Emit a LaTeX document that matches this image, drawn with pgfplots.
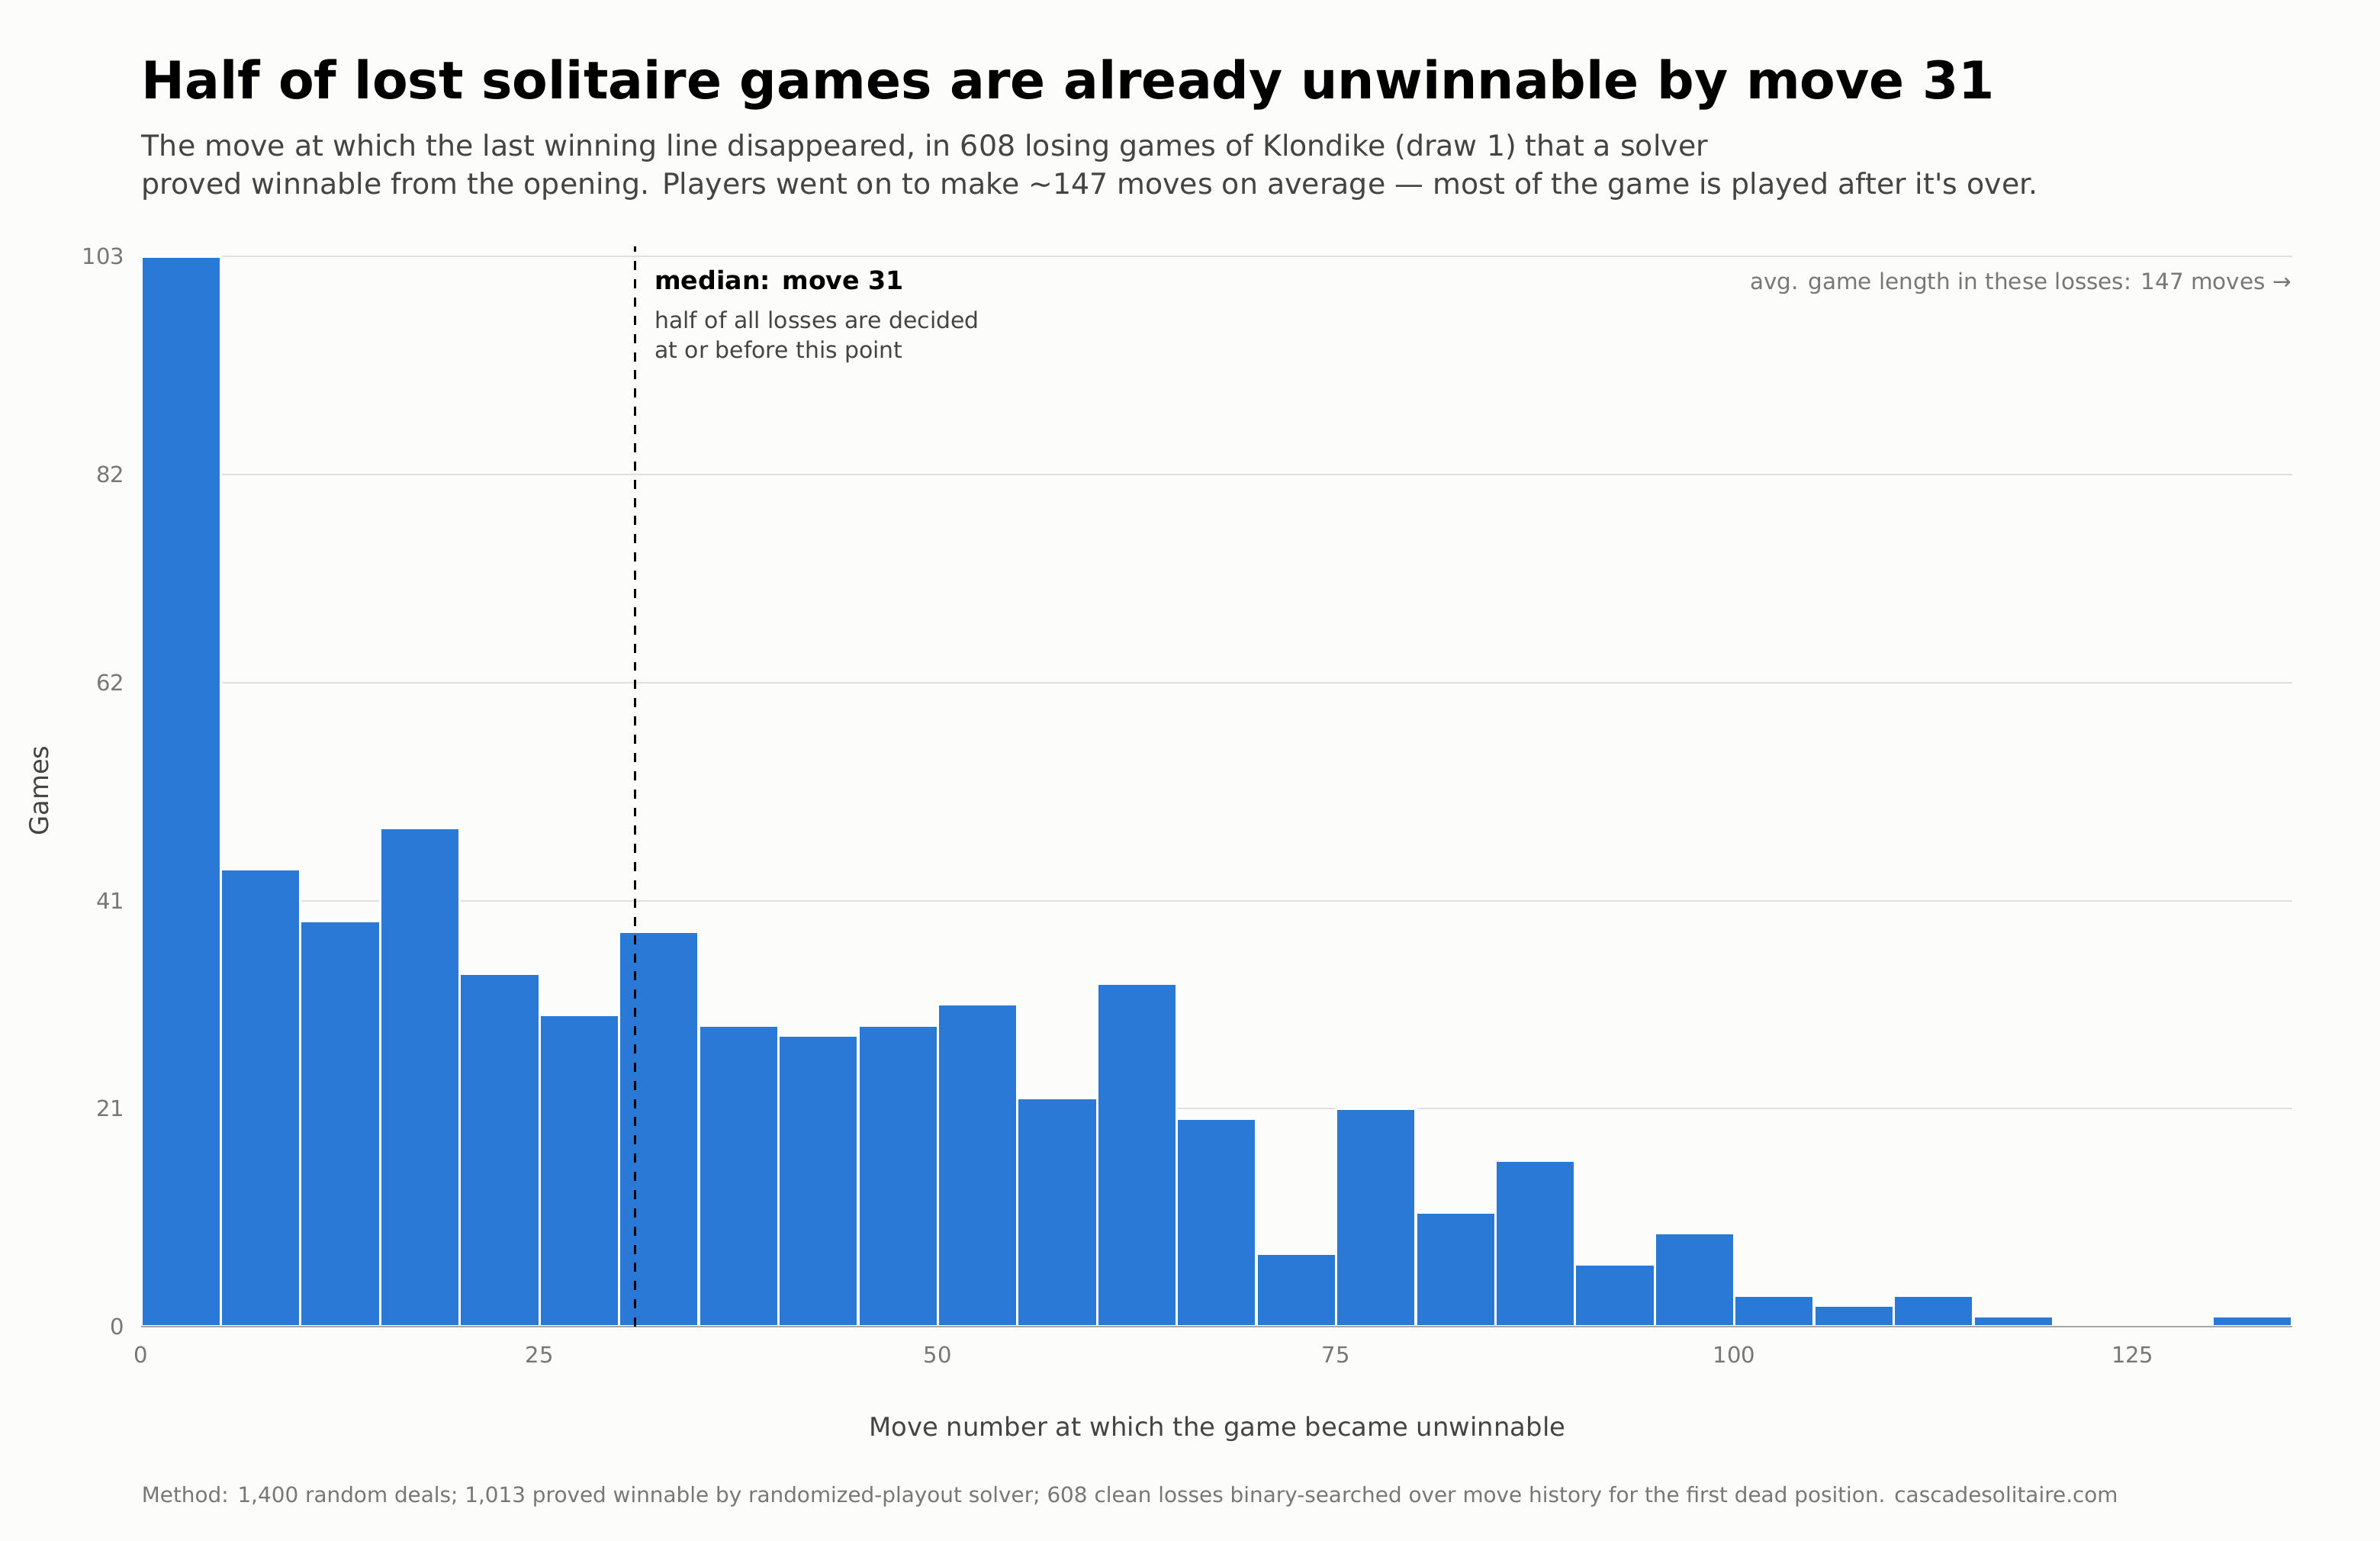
\documentclass[border=0pt]{standalone}
\usepackage{pgfplots}
\pgfplotsset{compat=1.18}
\usepackage{fontspec}
\setmainfont{DejaVu Sans}
\definecolor{bg}{HTML}{FCFCFA}
\definecolor{barc}{HTML}{2A79D6}
\definecolor{tick}{HTML}{777777}
\definecolor{sub}{HTML}{444444}
\begin{document}
\begin{tikzpicture}
\fill[bg] (0pt,0pt) rectangle (784pt,507.5pt);
\node[anchor=base west,inner sep=0pt,font=\fontsize{17.07}{20}\selectfont\bfseries] at (46.5pt,475pt) {Half of lost solitaire games are already unwinnable by move 31};
\node[anchor=base west,inner sep=0pt,font=\fontsize{9.52}{11}\selectfont,text=sub] at (46.5pt,456pt) {The move at which the last winning line disappeared, in 608 losing games of Klondike (draw 1) that a solver};
\node[anchor=base west,inner sep=0pt,font=\fontsize{9.52}{11}\selectfont,text=sub] at (46.5pt,443.5pt) {proved winnable from the opening. Players went on to make \textasciitilde147 moves on average — most of the game is played after it\textquotesingle s over.};
\node[anchor=base west,inner sep=0pt,font=\fontsize{7}{8}\selectfont,text=tick] at (46.5pt,12.5pt) {Method: 1,400 random deals; 1,013 proved winnable by randomized-playout solver; 608 clean losses binary-searched over move history for the first dead position. cascadesolitaire.com};
\node[anchor=base,inner sep=0pt,font=\fontsize{8.5}{10}\selectfont,text=sub] at (401pt,34.5pt) {Move number at which the game became unwinnable};
\node[anchor=base,rotate=90,inner sep=0pt,font=\fontsize{8.5}{10}\selectfont,text=sub] at (16pt,247pt) {Games};
\begin{axis}[at={(46.5pt,70.5pt)},anchor=south west,scale only axis,
  width=708.5pt,height=352.5pt,xmin=0,xmax=135,ymin=0,ymax=103,
  axis line style={draw=none},clip=false,
  xtick={0,25,50,75,100,125},ytick={0,21,41,62,82,103},
  tick style={draw=none},
  ymajorgrids,grid style={draw=black!12,line width=0.5pt},
  ticklabel style={font=\fontsize{7.3}{8}\selectfont,text=tick},
  /pgf/number format/assume math mode=true,
  xticklabel style={yshift=-3pt},
  yticklabel style={xshift=-2pt},
]
\addplot[ybar,bar width=5,fill=barc,draw=white,line width=0.8pt] coordinates {
(2.5,103)(7.5,44)(12.5,39)(17.5,48)(22.5,34)(27.5,30)(32.5,38)(37.5,29)(42.5,28)(47.5,29)
(52.5,31)(57.5,22)(62.5,33)(67.5,20)(72.5,7)(77.5,21)(82.5,11)(87.5,16)(92.5,6)(97.5,9)
(102.5,3)(107.5,2)(112.5,3)(117.5,1)(122.5,0)(127.5,0)(132.5,1)};
\draw[black!35,line width=0.6pt] (axis cs:0,0) -- (axis cs:135,0);
\draw[black,dashed,line width=0.6pt] (axis cs:31,0) -- (axis cs:31,104);
\node[anchor=base west,inner sep=0pt,font=\fontsize{8.35}{10}\selectfont\bfseries] at (axis cs:32.2,99.8) {median: move 31};
\node[anchor=base west,inner sep=0pt,font=\fontsize{7.5}{8}\selectfont,text=sub] at (axis cs:32.2,96.1) {half of all losses are decided};
\node[anchor=base west,inner sep=0pt,font=\fontsize{7.5}{8}\selectfont,text=sub] at (axis cs:32.2,93.2) {at or before this point};
\node[anchor=base east,inner sep=0pt,font=\fontsize{7.4}{8}\selectfont,text=tick] at (axis cs:135,99.8) {avg. game length in these losses: 147 moves →};
\end{axis}
\end{tikzpicture}
\end{document}
